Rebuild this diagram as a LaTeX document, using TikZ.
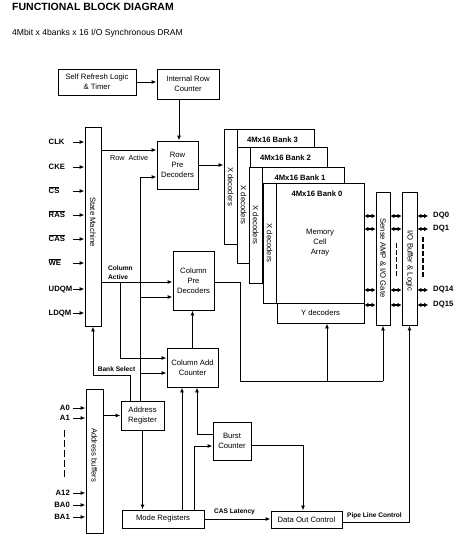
\documentclass[tikz,border=0pt]{standalone}
\usepackage{fontspec}
\setmainfont{Liberation Sans}
\usetikzlibrary{positioning, calc, arrows.meta}

\newcommand{\boxfont}{\fontsize{7.7}{10}\selectfont}
\newcommand{\pinfont}{\fontsize{7.7}{10}\selectfont\bfseries}
\newcommand{\sigfont}{\fontsize{6.6}{9}\selectfont\bfseries}
\newcommand{\ovl}[1]{$\overline{\hbox{#1}}$}

\tikzset{
  blk/.style={draw, line width=0.95pt, inner sep=0pt, align=center, font=\boxfont, fill=white},
  arr/.style={line width=0.95pt, -{Latex[length=5pt,width=4pt]}},
  wire/.style={line width=0.95pt},
  dbl/.style={line width=1.2pt, {Latex[length=4pt,width=4.8pt]}-{Latex[length=4pt,width=4.8pt]}},
  pin/.style={font=\pinfont, inner sep=0pt},
  sig/.style={font=\sigfont, inner sep=0pt},
  vtext/.style={font=\boxfont, rotate=-90, inner sep=0pt},
  dashline/.style={line width=1.2pt, dash pattern=on 4.5pt off 2.5pt},
  adash/.style={line width=0.8pt, dash pattern=on 7pt off 3pt}
}

\begin{document}
\begin{tikzpicture}[x=1pt,y=-1pt]
    \useasboundingbox (0,0) rectangle (467,539);

    % Heading
    \node[anchor=base west, inner sep=0pt, font=\fontsize{10.5}{12}\selectfont\bfseries] (title) at (12,10.5) {FUNCTIONAL BLOCK DIAGRAM};
    \node[anchor=base west, inner sep=0pt, font=\fontsize{8.6}{10}\selectfont] (subtitle) at (12,35) {4Mbit x 4banks x 16 I/O Synchronous DRAM};

    % Control blocks
    \node[blk, minimum width=78, minimum height=26] (selfref) at (97,82) {Self Refresh Logic\\\& Timer};
    \node[blk, minimum width=62, minimum height=30] (introw) at (188,84) {Internal Row\\Counter};
    \node[blk, minimum width=41, minimum height=48] (rowpre) at (177.5,165) {Row\\Pre\\Decoders};
    \node[blk, minimum width=16, minimum height=199] (sm) at (93,226.5) {};
    \node[vtext] at (93,222) {State Machine};
    \node[blk, minimum width=41, minimum height=59] (colpre) at (193.5,280.5) {Column\\Pre\\Decoders};
    \node[blk, minimum width=51, minimum height=39] (coladd) at (192.5,367.5) {Column Add\\Counter};
    \node[blk, minimum width=43, minimum height=29] (addrreg) at (142.5,415.5) {Address\\Register};
    \node[blk, minimum width=17, minimum height=144] (addrbuf) at (94.5,461) {};
    \node[vtext] at (94.5,455) {Address buffers};
    \node[blk, minimum width=38, minimum height=38] (burst) at (232,441) {Burst\\Counter};
    \node[blk, minimum width=82, minimum height=18] (mode) at (163,519) {Mode Registers};
    \node[blk, minimum width=71, minimum height=17] (dout) at (306.5,519.5) {Data Out Control};
    \node[blk, minimum width=14, minimum height=133] (sense) at (383,258.5) {};
    \node[vtext] at (383,258) {Sense AMP \& I/O Gate};
    \node[blk, minimum width=15, minimum height=133] (iobuf) at (409.5,258.5) {};
    \node[vtext] at (409.5,261) {I/O Buffer \& Logic};

    % Banks, back to front
    \foreach \bk/\xl/\yt/\xr/\yb in {3/224/129/314/244, 2/237/147/327/263, 1/249/167/344/283, 0/263/183/364/303}{
        \node[blk, minimum width={\xr-\xl}, minimum height={\yb-\yt}] (bank\bk) at ({(\xl+\xr)/2},{(\yt+\yb)/2}) {};
        \node[blk, minimum width=13.5, minimum height={\yb-\yt}] (xdec\bk) at ({\xl+6.75},{(\yt+\yb)/2}) {};
        \node[vtext] at (xdec\bk) {X decoders};
        \node[pin] at ({(\xl+13+\xr)/2-3},{\yt+11}) {4Mx16 Bank \bk};
    }
    \node[blk, minimum width=87, minimum height=20] (ydec) at (320.5,313) {Y decoders};
    \node[font=\boxfont, align=center] (mca) at (320,243) {Memory\\Cell\\Array};

    % Command inputs
    \foreach \nm/\txt/\yy in {clk/CLK/142, cke/CKE/167, cs/\ovl{CS}/191, ras/\ovl{RAS}/215, cas/\ovl{CAS}/239, we/\ovl{WE}/263, udqm/UDQM/289, ldqm/LDQM/313}{
        \coordinate (\nm-in) at (73,\yy);
        \node[pin, anchor=base west] (\nm) at (48.5,{\yy+2.8}) {\txt};
        \draw[arr] (\nm-in) -- (\nm-in -| sm.west);
    }

    % Address inputs
    \foreach \nm/\txt/\yy in {a0/A0/408, a1/A1/418, a12/A12/493, ba0/BA0/505, ba1/BA1/517}{
        \coordinate (\nm-in) at (73,\yy);
        \node[pin, anchor=base east] (\nm) at (70,{\yy+2.8}) {\txt};
        \draw[arr] (\nm-in) -- (\nm-in -| addrbuf.west);
    }
    \draw[adash] (64,430) -- (64,480);

    % Refresh path
    \draw[arr] (selfref.east) -- (selfref.east -| introw.west);
    \draw[arr] ([xshift=1.5pt]rowpre.north |- introw.south) -- ([xshift=1.5pt]rowpre.north);

    % Row Active
    \coordinate (rowact) at ([yshift=15pt]rowpre.west);
    \draw[arr] (sm.east |- rowact) -- (rowact);
    \node[anchor=west, inner sep=0pt, font=\fontsize{7.2}{9}\selectfont] at (110,158) {Row\ \ Active};
    \draw[arr] (rowpre.east) -- (rowpre.east -| xdec3.west);

    % Address bus
    \coordinate (bus) at ([xshift=-2.5pt]addrreg.north);
    \coordinate (bsel) at ([xshift=-12.5pt]addrreg.north);
    \coordinate (rowbus) at ([yshift=-12pt]rowpre.west);
    \draw[arr] (bus) |- (rowbus);
    \coordinate (colbus) at ([yshift=-16.5pt]colpre.west);
    \draw[arr] (bus |- colbus) -- (colbus);
    \coordinate (addbus) at ([yshift=-5.5pt]coladd.west);
    \draw[arr] (bus |- addbus) -- (addbus);

    % Column Active
    \coordinate (colact) at ([yshift=-1.5pt]colpre.west);
    \draw[arr] (sm.east |- colact) -- (colact);
    \coordinate (cactdrop) at (120,0);
    \coordinate (addact) at ([yshift=9.5pt]coladd.west);
    \draw[arr] (cactdrop |- colact) |- (addact);
    \node[sig, anchor=west, align=left] at (108,272.5) {Column\\Active};

    % Bank Select
    \draw[arr] (bsel) -- ++(0,-25) -| (sm.south);
    \node[sig] at (116.5,369) {Bank Select};

    % Column counters
    \draw[arr] (coladd.north) -- (coladd.north |- colpre.south);
    \coordinate (m1) at ([xshift=19pt]mode.north);
    \draw[arr] (m1) -- (m1 |- coladd.south);
    \coordinate (m2) at ([xshift=31pt]mode.north);
    \coordinate (bin) at ([yshift=-5pt]burst.west);
    \draw[arr] (m2) |- (bin);
    \coordinate (bout) at ([yshift=7pt]burst.west);
    \draw[arr] (bout) -| ([xshift=4.5pt]coladd.south);
    \draw[arr] (addrreg.south) -- (addrreg.south |- mode.north);
    \draw[arr] (addrbuf.east |- addrreg.west) -- (addrreg.west);

    % Output control
    \draw[arr] (mode.east) -- (mode.east -| dout.west);
    \node[sig] at (234.5,512) {CAS Latency};
    \draw[arr] ([yshift=-4pt]burst.east) -| ([xshift=-3.5pt]dout.north);
    \draw[arr] ([yshift=-2.5pt]dout.east) -| (iobuf.south);
    \node[sig] at (374.5,516) {Pipe Line Control};

    % Column decode to Y decoders and sense amp
    \coordinate (yjoin) at (240,381);
    \draw[wire] ([yshift=-1.5pt]colpre.east) -| (yjoin) -- (yjoin -| sense.south);
    \coordinate (ytap) at ([xshift=6.5pt]ydec.south);
    \draw[arr] (yjoin -| ytap) -- (ytap);
    \draw[arr] (yjoin -| sense.south) -- (sense.south);

    % Data lines
    \foreach \nm/\txt/\yy in {dq0/DQ0/216, dq1/DQ1/229, dq14/DQ14/290, dq15/DQ15/305}{
        \coordinate (\nm-row) at (0,\yy);
        \draw[dbl] (bank0.east |- \nm-row) -- (sense.west |- \nm-row);
        \draw[dbl] (sense.east |- \nm-row) -- (iobuf.west |- \nm-row);
        \node[pin, anchor=west] (\nm) at (433,\yy) {\txt};
        \draw[dbl] (iobuf.east |- \nm-row) -- ([xshift=-5pt]\nm.west);
    }
    \draw[dashline] (396.5,243) -- (396.5,277);
    \draw[dashline] (423,237) -- (423,278);
\end{tikzpicture}
\end{document}
